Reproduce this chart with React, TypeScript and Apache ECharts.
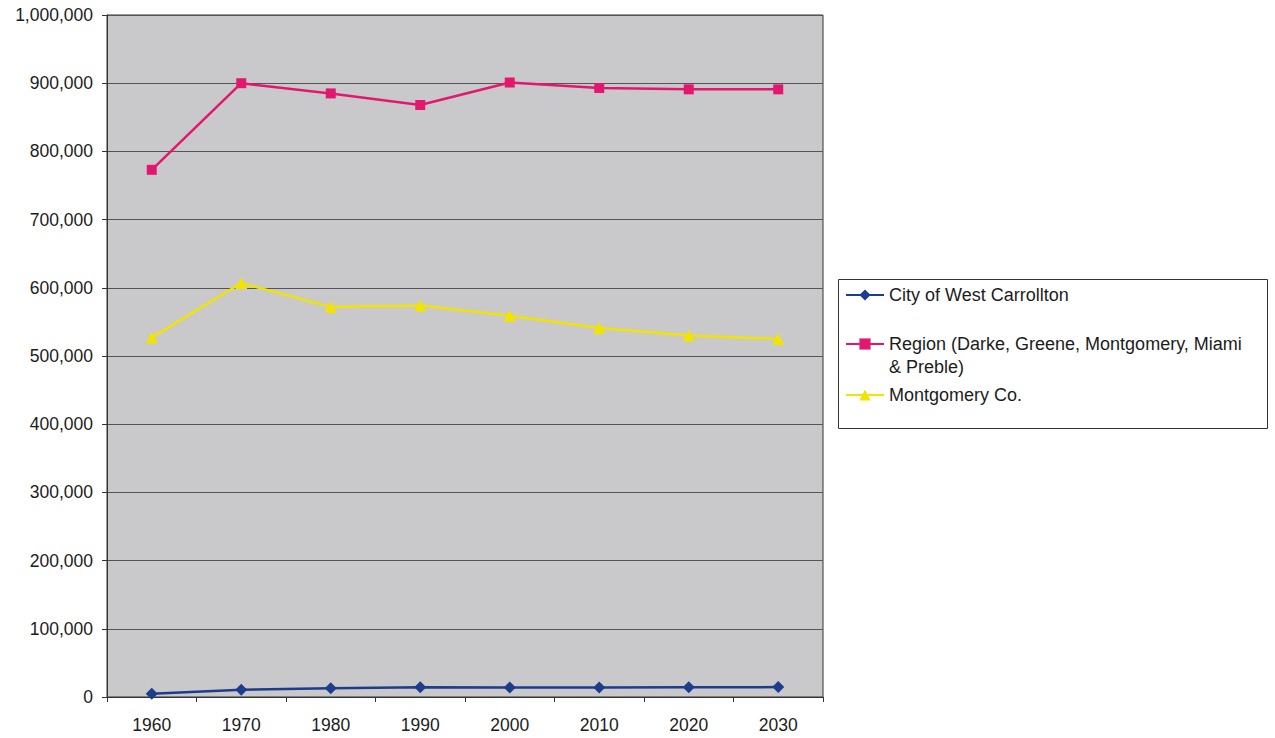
import React, { useEffect, useRef } from "react";
import * as echarts from "echarts";

const categories = ["1960", "1970", "1980", "1990", "2000", "2010", "2020", "2030"];
const cityValues = [4700, 10700, 12800, 14200, 13800, 14000, 14200, 14500];
const regionValues = [773000, 900000, 885000, 868000, 901000, 893000, 891000, 891000];
const montgomeryValues = [527000, 607000, 572000, 574000, 559000, 541000, 530000, 525000];
const seriesNames = [
  "City of West Carrollton",
  "Region (Darke, Greene, Montgomery, Miami & Preble)",
  "Montgomery Co.",
];
const yMin = 0;
const yMax = 1000000;
const yInterval = 100000;

const FONT = '"Liberation Sans", Arial, Helvetica, sans-serif';
const NAVY = "#1d3c8c";
const PINK = "#e2186f";
const YELLOW = "#f0e400";
const TEXT = "#1c1c1c";

export default function App() {
  const ref = useRef<HTMLDivElement>(null);
  useEffect(() => {
    if (!ref.current) return;
    const chart = echarts.init(ref.current, undefined, { renderer: "svg" });
    const legendBase = {
      orient: "vertical",
      padding: 0,
      itemWidth: 38,
      itemHeight: 14,
      left: 845,
      textStyle: { fontFamily: FONT, fontSize: 18, color: TEXT, lineHeight: 23 },
      selectedMode: false,
    };
    chart.setOption({
      animation: false,
      backgroundColor: "#ffffff",
      textStyle: { fontFamily: FONT },
      grid: {
        left: 107,
        top: 15,
        right: 452,
        bottom: 41,
        show: true,
        backgroundColor: "#c9c9cb",
        borderColor: "#333333",
        borderWidth: 1,
      },
      xAxis: {
        type: "category",
        data: categories,
        boundaryGap: true,
        axisLine: { lineStyle: { color: "#333333", width: 1 } },
        axisTick: { show: true, length: 5, lineStyle: { color: "#333333" } },
        axisLabel: { fontFamily: FONT, fontSize: 17.5, color: TEXT, margin: 19 },
        splitLine: { show: false },
      },
      yAxis: {
        type: "value",
        min: yMin,
        max: yMax,
        interval: yInterval,
        axisLine: { show: true, lineStyle: { color: "#333333", width: 1 } },
        axisTick: { show: true, length: 5, lineStyle: { color: "#333333" } },
        axisLabel: {
          fontFamily: FONT,
          fontSize: 17.5,
          color: TEXT,
          margin: 14,
          formatter: (v: number) => v.toLocaleString("en-US"),
        },
        splitLine: { show: true, lineStyle: { color: "#555555", width: 1 } },
      },
      legend: [
        { ...legendBase, top: 283.5, data: [seriesNames[0]] },
        {
          ...legendBase,
          top: 309.5,
          data: [seriesNames[1]],
          formatter: () => "\nRegion (Darke, Greene, Montgomery, Miami\n& Preble)",
        },
        { ...legendBase, top: 383.5, data: [seriesNames[2]] },
      ],
      graphic: [
        {
          type: "rect",
          shape: { x: 838.5, y: 279.5, width: 429, height: 149 },
          style: { fill: "none", stroke: "#333333", lineWidth: 1 },
          silent: true,
        },
      ],
      series: [
        {
          name: seriesNames[0],
          type: "line",
          data: cityValues,
          symbol: "diamond",
          symbolSize: 12,
          color: NAVY,
          lineStyle: { color: NAVY, width: 2.5 },
          itemStyle: { color: NAVY },
          z: 3,
        },
        {
          name: seriesNames[1],
          type: "line",
          data: regionValues,
          symbol: "rect",
          symbolSize: 10,
          color: PINK,
          lineStyle: { color: PINK, width: 2.5 },
          itemStyle: { color: PINK },
          z: 3,
        },
        {
          name: seriesNames[2],
          type: "line",
          data: montgomeryValues,
          symbol: "triangle",
          symbolSize: 12,
          color: YELLOW,
          lineStyle: { color: YELLOW, width: 2.5 },
          itemStyle: { color: YELLOW },
          z: 3,
        },
      ],
    });
    return () => chart.dispose();
  }, []);
  return (
    <div
      ref={ref}
      style={{ position: "absolute", left: 0, top: 0, width: 1275, height: 738 }}
    />
  );
}
